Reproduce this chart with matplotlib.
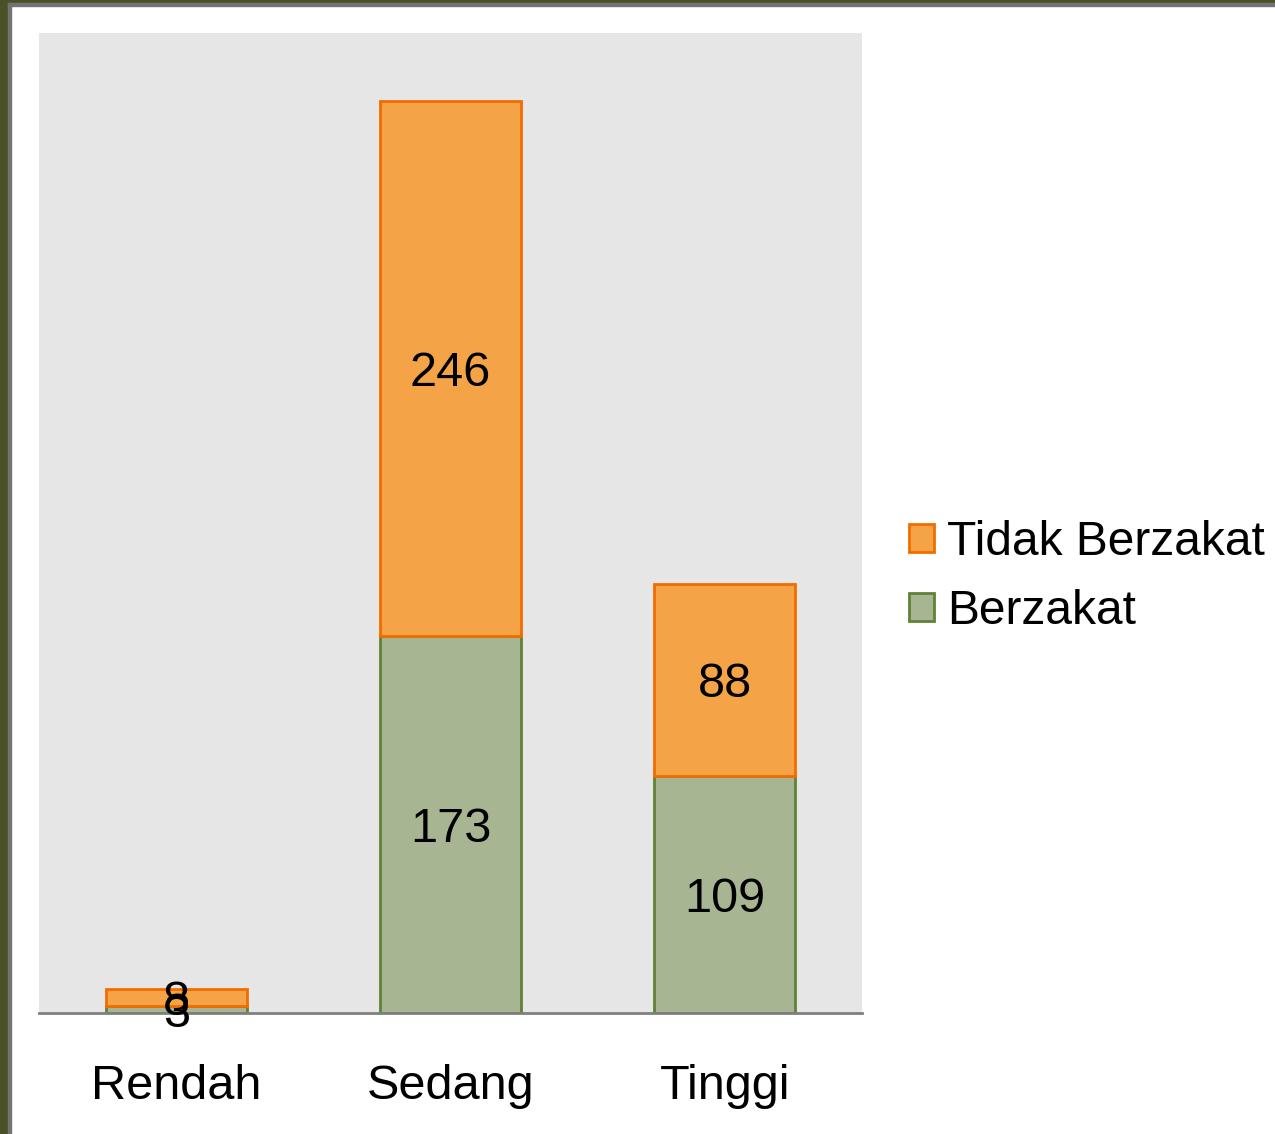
import matplotlib.pyplot as plt
from matplotlib.patches import Rectangle

categories = ['Rendah', 'Sedang', 'Tinggi']
berzakat = [3, 173, 109]
tidak_berzakat = [8, 246, 88]

plt.rcParams['font.family'] = ['Liberation Sans', 'DejaVu Sans']

fig = plt.figure(figsize=(12.75, 11.34), dpi=100)
fig.patch.set_facecolor('white')

# frame around the slide: olive outer band, gray inner line
fig.patches.append(Rectangle((0, 0), 8/1275, 1, transform=fig.transFigure, color='#4b5127', zorder=0))
fig.patches.append(Rectangle((0, 1 - 3/1134), 1, 3/1134, transform=fig.transFigure, color='#4b5127', zorder=0))
fig.patches.append(Rectangle((8/1275, 0), 3/1275, 1 - 3/1134, transform=fig.transFigure, color='#737373', zorder=0))
fig.patches.append(Rectangle((8/1275, 1 - 6/1134), 1, 3/1134, transform=fig.transFigure, color='#737373', zorder=0))

ax = fig.add_axes([39/1275, 121/1134, 823/1275, 980/1134])
ax.set_facecolor('#e6e6e6')

x = range(len(categories))
b1 = ax.bar(x, berzakat, width=0.514, color='#a7b592', edgecolor='#5f8236', linewidth=2, label='Berzakat')
b2 = ax.bar(x, tidak_berzakat, width=0.514, bottom=berzakat, color='#f4a447', edgecolor='#f26d00',
            linewidth=2, label='Tidak Berzakat')
for t in ax.bar_label(b1, label_type='center', fontsize=35) + ax.bar_label(b2, label_type='center', fontsize=35):
    t.set_va('center_baseline')

ax.set_xlim(-0.5, 2.5)
ax.set_ylim(0, 450)
ax.set_xticks(list(x))
ax.set_xticklabels(categories, fontsize=35)
ax.tick_params(axis='x', length=0, pad=37)
ax.set_yticks([])
for s in ['top', 'right', 'left']:
    ax.spines[s].set_visible(False)
ax.spines['bottom'].set_color('#7f7f7f')
ax.spines['bottom'].set_linewidth(2)

handles = [b2, b1]
leg = fig.legend(handles, ['Tidak Berzakat', 'Berzakat'], loc='center left',
                 bbox_to_anchor=(909/1275, 1 - 577/1134), frameon=False, fontsize=34.5,
                 borderpad=0, borderaxespad=0,
                 handlelength=0.52, handleheight=0.52, handletextpad=0.28, labelspacing=0.5)

fig.savefig('out.png', dpi=100)
